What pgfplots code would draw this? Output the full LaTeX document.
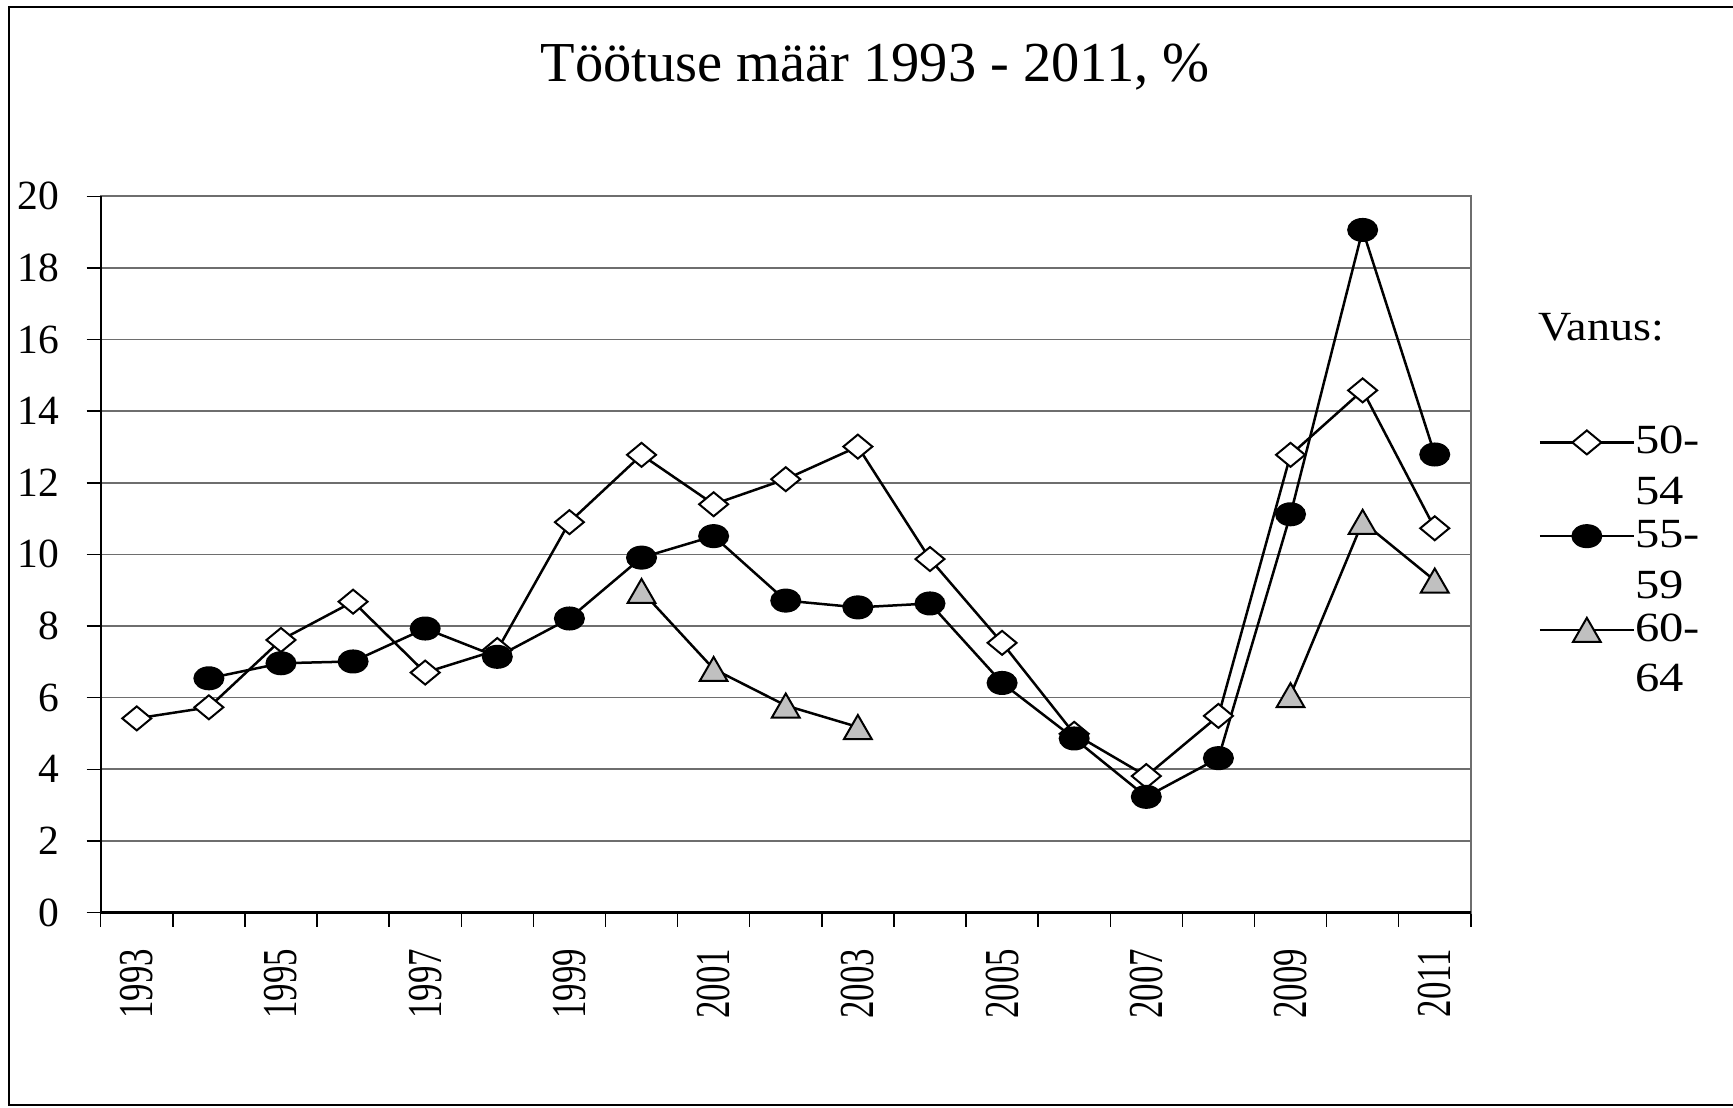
\documentclass[border=0pt]{standalone}
\usepackage{graphicx}
\usepackage{pgfplots}
\pgfplotsset{compat=1.18}
\usepackage{fontspec}
\setmainfont{Liberation Serif}
\definecolor{gridc}{HTML}{6E6E6E}
\definecolor{trifill}{HTML}{C0C0C0}
\newcommand{\twol}[2]{\vtop{\hbox{\scalebox{1.17}[1]{#1}}\hbox{\scalebox{1.17}[1]{#2}}}}
\newcommand{\yl}[1]{\scalebox{1}[1.4]{#1}}

\begin{document}
\begin{tikzpicture}
\begin{axis}[
  at={(30.21bp,58.35bp)}, anchor=south west,
  scale only axis,
  width=411.03bp, height=214.86bp,
  xmin=-0.5, xmax=18.5,
  ymin=0, ymax=20,
  ytick={0,2,...,20},
  xtick={0,...,18},
  xticklabels={\yl{1993},,\yl{1995},,\yl{1997},,\yl{1999},,\yl{2001},,\yl{2003},,\yl{2005},,\yl{2007},,\yl{2009},,\yl{2011}},
  minor xtick={-0.5,0.5,...,18.5},
  major x tick style={draw=none},
  tick pos=left,
  tick align=outside,
  major tick length=4.2bp,
  minor tick length=4.2bp,
  every tick/.style={black, line width=0.45bp},
  ymajorgrids,
  grid style={gridc, line width=0.5bp},
  axis line style={gridc, line width=0.6bp},
  /pgf/number format/assume math mode=true,
  yticklabel style={font=\fontsize{12.5}{14}\selectfont, anchor=east, inner sep=0pt, xshift=-8bp},
  xticklabel style={font=\fontsize{10.5}{12}\selectfont, rotate=90, anchor=east, inner sep=0pt, xshift=-6.5bp},
  clip=false,
  unbounded coords=jump,
  legend style={draw=none, fill=none, inner sep=0pt, at={(1.049,0.68)}, anchor=north west,
    font=\fontsize{12.5}{15.3}\selectfont, row sep=18.4bp, column sep=0bp,
    nodes={inner sep=0pt}},
  legend cell align=left,
  legend image code/.code={\draw[mark repeat=2,mark phase=2] plot coordinates {(0bp,0bp)(14.1bp,0bp)(28.2bp,0bp)};},
]
\draw[black, line width=0.7bp] (rel axis cs:0,1) -- (rel axis cs:0,0) -- (rel axis cs:1,0);

\addplot[black, line width=0.75bp, mark=diamond*, mark size=5.8bp,
  mark options={fill=white, draw=black, line width=0.6bp, yscale=0.62}]
coordinates {
(0,5.42) (1,5.73) (2,7.61) (3,8.68) (4,6.70) (5,7.33) (6,10.90) (7,12.78)
(8,11.40) (9,12.10) (10,13.01) (11,9.87) (12,7.53) (13,4.99) (14,3.81)
(15,5.49) (16,12.78) (17,14.58) (18,10.73)
};
\addlegendentry{\twol{50-}{54}}

\addplot[black, line width=0.75bp, mark=*, mark size=4.35bp,
  mark options={fill=black, draw=black, line width=0.6bp, yscale=0.76}]
coordinates {
(1,6.54) (2,6.96) (3,7.01) (4,7.93) (5,7.14) (6,8.21) (7,9.91) (8,10.51)
(9,8.71) (10,8.52) (11,8.63) (12,6.41) (13,4.86) (14,3.23) (15,4.31)
(16,11.12) (17,19.06) (18,12.79)
};
\addlegendentry{\twol{55-}{59}}

\addplot[black, line width=0.75bp, mark=triangle*, mark size=4.8bp,
  mark options={fill=trifill, draw=black, line width=0.6bp, yshift=-1.2bp}]
coordinates {
(7,8.98) (8,6.80) (9,5.78) (10,5.18) (11,nan) (12,nan) (13,nan) (14,nan) (15,nan)
(16,6.07) (17,10.91) (18,9.27)
};
\addlegendentry{\twol{60-}{64}}
\end{axis}

\node[anchor=base, font=\fontsize{17}{20}\selectfont, inner sep=0pt] at (262.5bp,307.6bp) {Töötuse määr 1993 - 2011, \%};
\node[anchor=base west, font=\fontsize{12.5}{15}\selectfont, inner sep=0pt] at (461.4bp,230bp) {\scalebox{1.11}[1]{Vanus:}};
\draw[black, line width=0.6bp] (2.8bp,0.6bp) rectangle (540bp,330.1bp);

\pgfresetboundingbox
\useasboundingbox (0,0) rectangle (519.9bp,332.1bp);
\end{tikzpicture}
\end{document}
